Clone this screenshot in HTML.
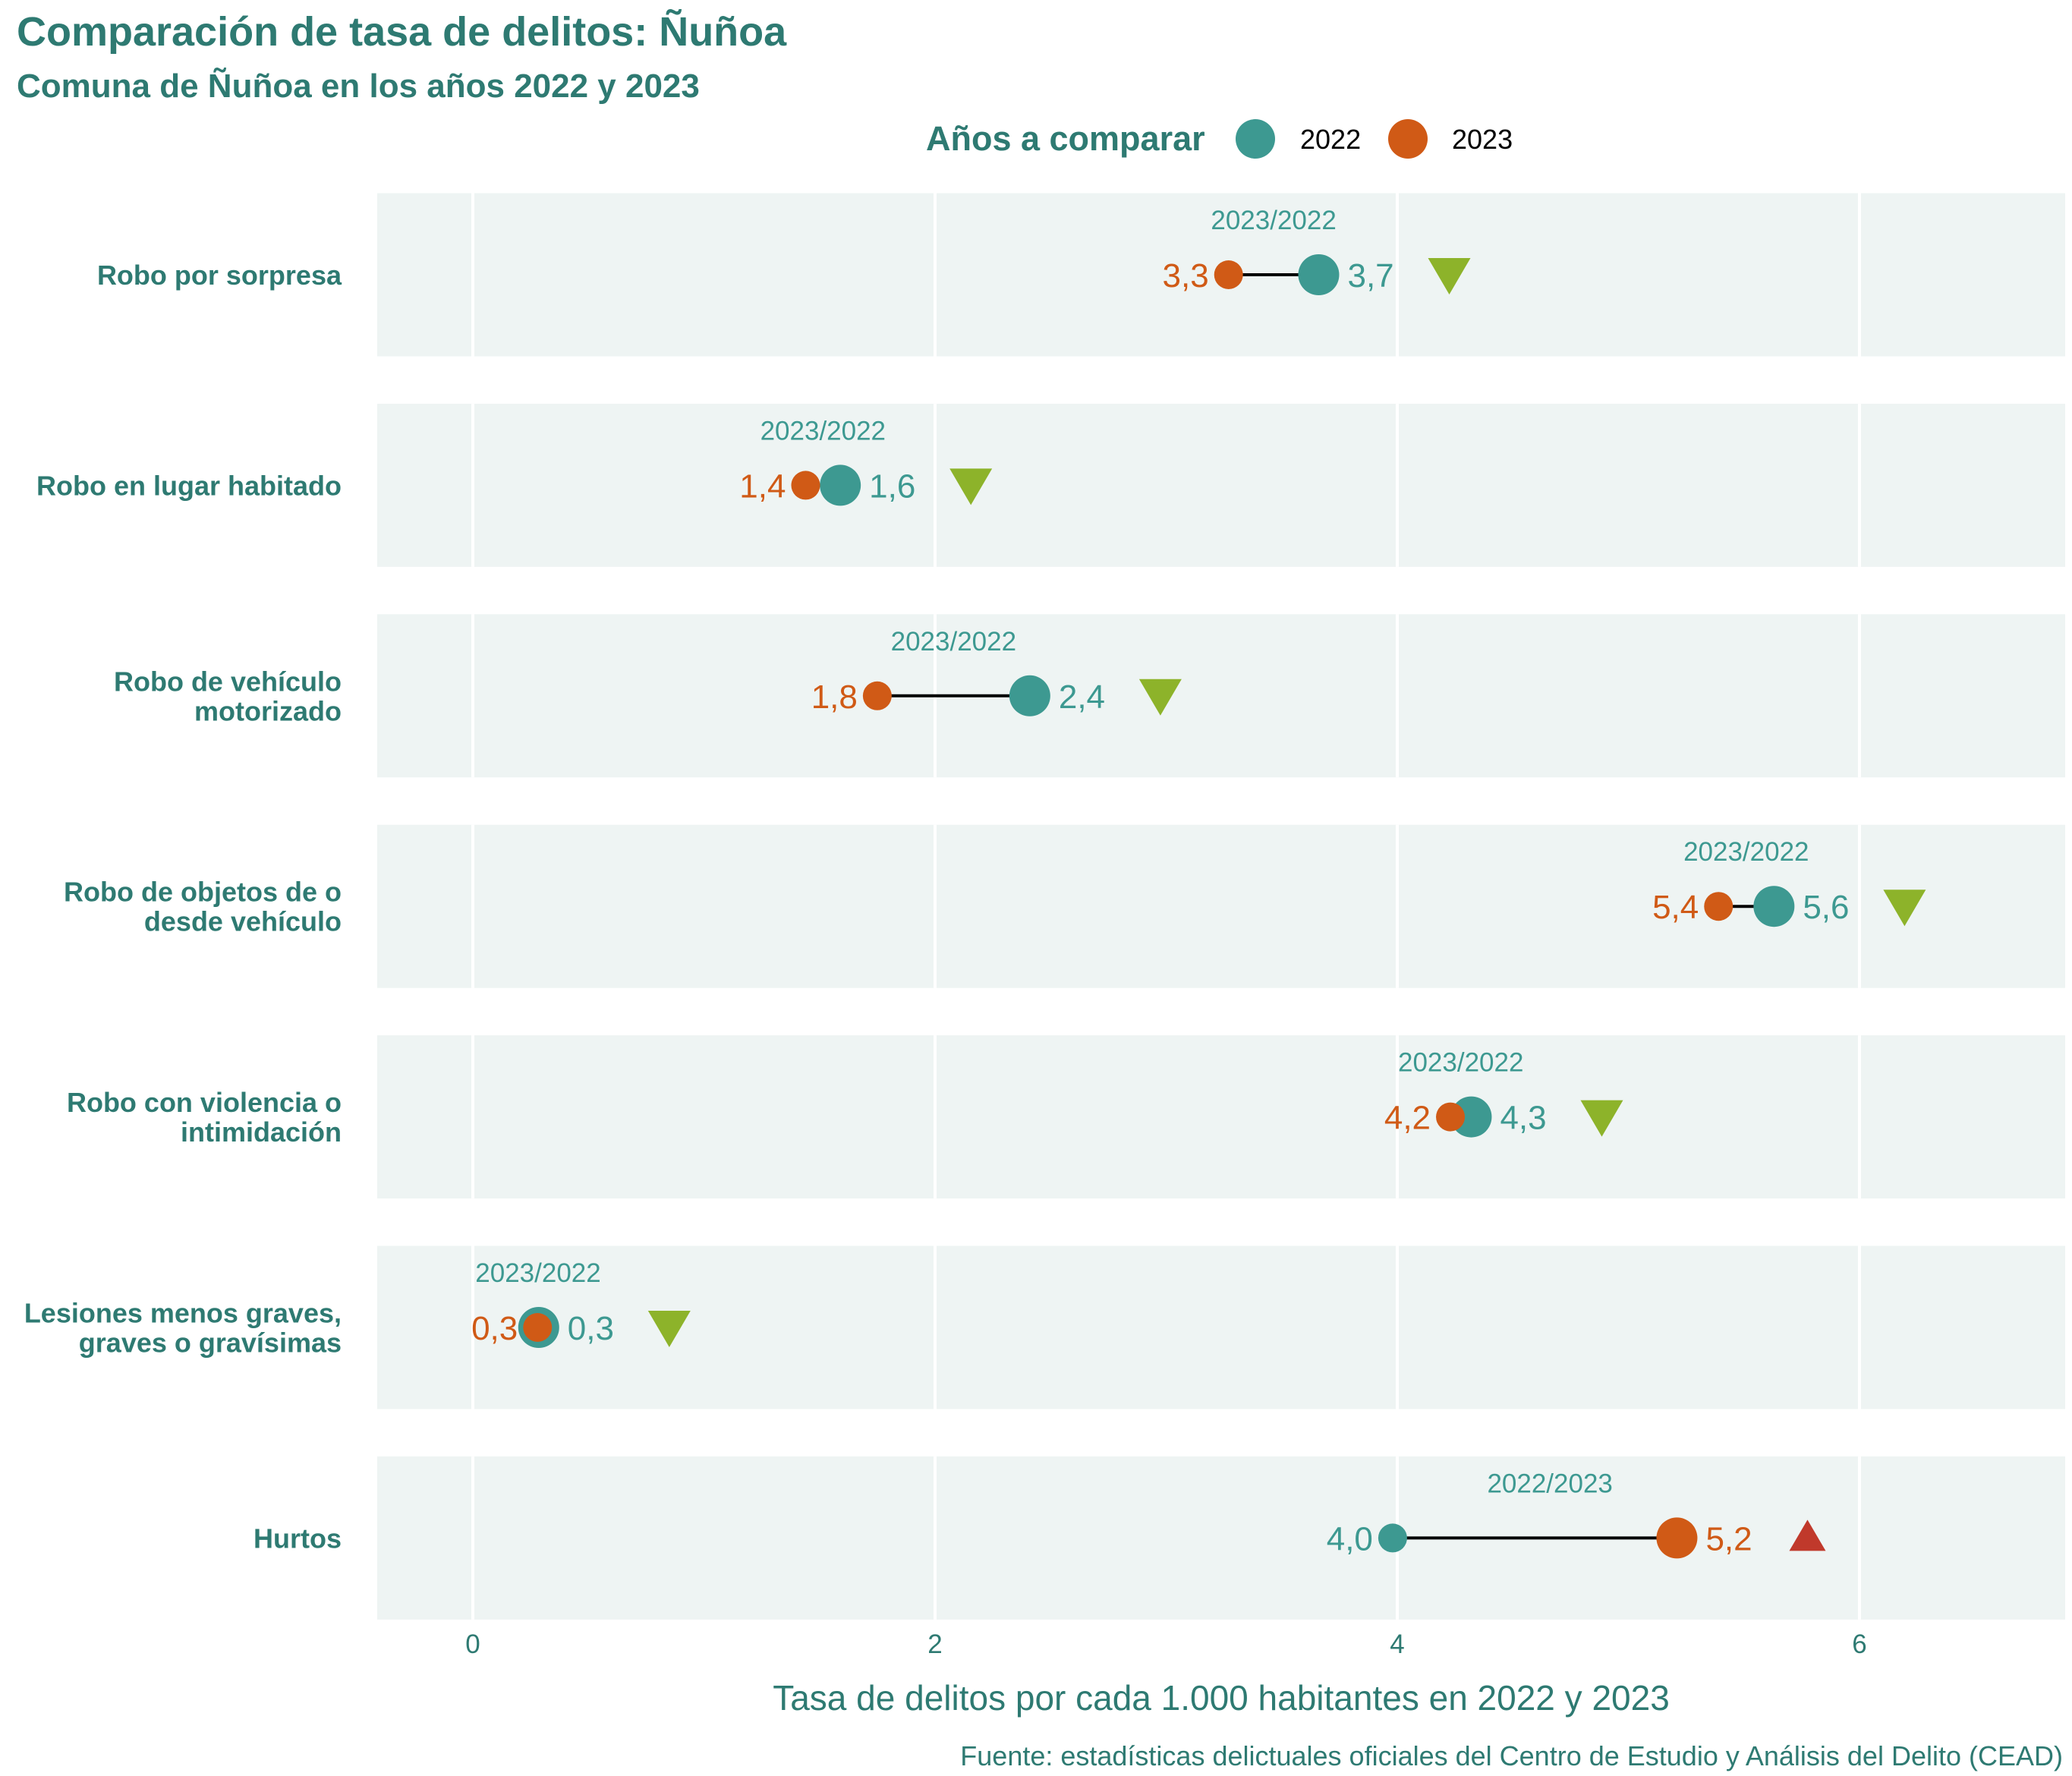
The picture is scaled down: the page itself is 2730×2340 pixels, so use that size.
<!DOCTYPE html>
<html><head><meta charset="utf-8">
<style>
html,body{margin:0;padding:0;background:#fff;}
svg{display:block;font-family:"Liberation Sans",sans-serif;}
</style></head>
<body>
<svg id="chart" width="2730" height="2340" viewBox="0 0 2730 2340" xmlns="http://www.w3.org/2000/svg">
<text x="22" y="60" font-size="54" font-weight="bold" fill="#2e7a72">Comparación de tasa de delitos: Ñuñoa</text>
<text x="22" y="128" font-size="44" font-weight="bold" fill="#2e7a72">Comuna de Ñuñoa en los años 2022 y 2023</text>
<g>
<text x="1220" y="198" font-size="45" font-weight="bold" fill="#2e7a72">Años a comparar</text>
<circle cx="1654" cy="183" r="26" fill="#3d9991"/>
<text x="1713" y="196" font-size="36" fill="#000">2022</text>
<circle cx="1855" cy="183" r="26" fill="#d05a16"/>
<text x="1913" y="196" font-size="36" fill="#000">2023</text>
</g>
<g id="plot"></g>
<text x="1609" y="2253" font-size="46" fill="#2e7a72" text-anchor="middle">Tasa de delitos por cada 1.000 habitantes en 2022 y 2023</text>
<text x="2718" y="2326" font-size="36" fill="#2e7a72" text-anchor="end">Fuente: estadísticas delictuales oficiales del Centro de Estudio y Análisis del Delito (CEAD)</text>
</svg>
<script>
const categories = [["Robo por sorpresa"],["Robo en lugar habitado"],["Robo de vehículo","motorizado"],["Robo de objetos de o","desde vehículo"],["Robo con violencia o","intimidación"],["Lesiones menos graves,","graves o gravísimas"],["Hurtos"]];
const values2022 = [3.66, 1.59, 2.41, 5.63, 4.32, 0.285, 3.98];
const values2023 = [3.27, 1.44, 1.75, 5.39, 4.23, 0.28, 5.21];
const labels2022 = ["3,7","1,6","2,4","5,6","4,3","0,3","4,0"];
const labels2023 = ["3,3","1,4","1,8","5,4","4,2","0,3","5,2"];
const xTicks = [0, 2, 4, 6];

const NS = "http://www.w3.org/2000/svg";
const plot = document.getElementById('plot');
const X0 = 623, UNIT = 304.5;
const xs = v => X0 + v * UNIT;
const rowY = i => 362 + i * 277.4;
const PL = 497, PR = 2721, PH = 215;
const TEAL = "#3d9991", ORANGE = "#d05a16";
function mk(tag, attrs, parent) {
  const e = document.createElementNS(NS, tag);
  for (const k in attrs) e.setAttribute(k, attrs[k]);
  (parent || plot).appendChild(e);
  return e;
}
categories.forEach((cat, i) => {
  const cy = rowY(i);
  const g = mk('g', {});
  
  
  const bg = mk('rect', {x: PL, y: cy - PH/2, width: PR - PL, height: PH, fill: "#eef4f3"}, g);
  
  
  xTicks.forEach(t => {
    const gl = mk('line', {x1: xs(t), x2: xs(t), y1: cy - PH/2, y2: cy + PH/2, stroke: "#fff", "stroke-width": 4}, g);
    
    
  });
  const lbl = mk('text', {x: 450, y: 0, "font-size": 36, "font-weight": "bold", fill: "#2e7a72", "text-anchor": "end"}, g);
  
  
  const n = cat.length;
  cat.forEach((line, k) => {
    const ts = mk('tspan', {x: 450, y: cy + 13 + (k - (n-1)/2) * 39}, lbl);
    ts.textContent = line;
  });
  const a = values2022[i], b = values2023[i];
  const lo = Math.min(a, b), hi = Math.max(a, b);
  const seg = mk('line', {x1: xs(lo), x2: xs(hi), y1: cy, y2: cy, stroke: "#000", "stroke-width": 4}, g);
  
  
  const bigIs2022 = a >= b;
  const r22 = bigIs2022 ? 27 : 19, r23 = bigIs2022 ? 19 : 27;
  const p22 = mk('circle', {cx: xs(a), cy: cy, r: r22, fill: TEAL}, g);
  
  
  const p23 = mk('circle', {cx: xs(b), cy: cy, r: r23, fill: ORANGE}, g);
  
  
  const loIs2022 = a < b;
  const loLab = loIs2022 ? labels2022[i] : labels2023[i];
  const hiLab = loIs2022 ? labels2023[i] : labels2022[i];
  const loCol = loIs2022 ? TEAL : ORANGE, hiCol = loIs2022 ? ORANGE : TEAL;
  const tl = mk('text', {x: xs(lo) - 26, y: cy + 16, "font-size": 44, fill: loCol, "text-anchor": "end"}, g);
  tl.textContent = loLab;
  
  
  const th = mk('text', {x: xs(hi) + 38, y: cy + 16, "font-size": 44, fill: hiCol}, g);
  th.textContent = hiLab;
  
  
  const rl = mk('text', {x: xs((lo + hi) / 2) + (loIs2022 ? 20 : 0), y: cy - 60, "font-size": 35, fill: TEAL, "text-anchor": "middle"}, g);
  rl.textContent = loIs2022 ? "2022/2023" : "2023/2022";
  
  
  const tx = xs(hi + 0.565);
  const down = b <= a;
  let pts;
  if (down) pts = `${tx-28},${cy-22} ${tx+28},${cy-22} ${tx},${cy+26}`;
  else pts = `${tx-24},${cy+17} ${tx+24},${cy+17} ${tx},${cy-24}`;
  const tri = mk('polygon', {points: pts, fill: down ? "#8db32a" : "#c0392b"}, g);
  
  
});
xTicks.forEach(t => {
  const tk = mk('text', {x: xs(t), y: 2178, "font-size": 35, fill: "#2e7a72", "text-anchor": "middle"});
  tk.textContent = String(t);
  
  
});
</script>
</body></html>
